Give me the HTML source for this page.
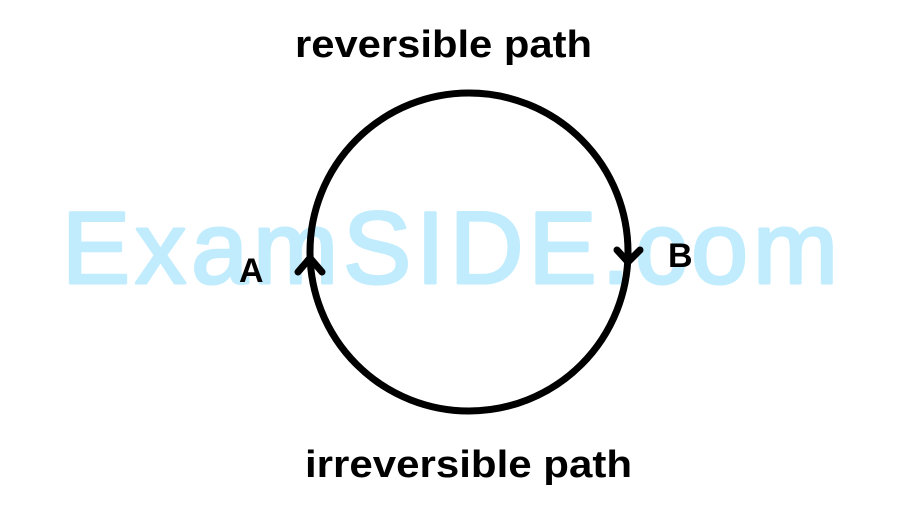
<!DOCTYPE html>
<html><head><style>html,body{margin:0;padding:0;background:#fff}</style></head>
<body>
<svg width="901" height="516" viewBox="0 0 901 516" xmlns="http://www.w3.org/2000/svg">
<rect width="901" height="516" fill="#fff"/>
<text x="62" y="283" font-family="Liberation Sans, sans-serif" font-size="102" fill="#c0ecfd" stroke="#c0ecfd" stroke-width="3" stroke-linejoin="round" textLength="776" lengthAdjust="spacing">ExamSIDE.com</text>
<circle cx="469" cy="252" r="159" fill="none" stroke="#000" stroke-width="7"/>
<path d="M298 272 L310 258 L322 272" fill="none" stroke="#000" stroke-width="7" stroke-linecap="round" stroke-linejoin="round"/>
<path d="M617 250 L628 262 L640 250" fill="none" stroke="#000" stroke-width="7" stroke-linecap="round" stroke-linejoin="round"/>
<g font-family="Liberation Sans, sans-serif" font-weight="bold" fill="#000">
<text x="295" y="57" font-size="38" textLength="297" lengthAdjust="spacingAndGlyphs">reversible path</text>
<text x="305" y="477" font-size="38" textLength="327" lengthAdjust="spacingAndGlyphs">irreversible path</text>
<text x="239" y="282" font-size="34">A</text>
<text x="668" y="267" font-size="34">B</text>
</g>
</svg>
</body></html>
